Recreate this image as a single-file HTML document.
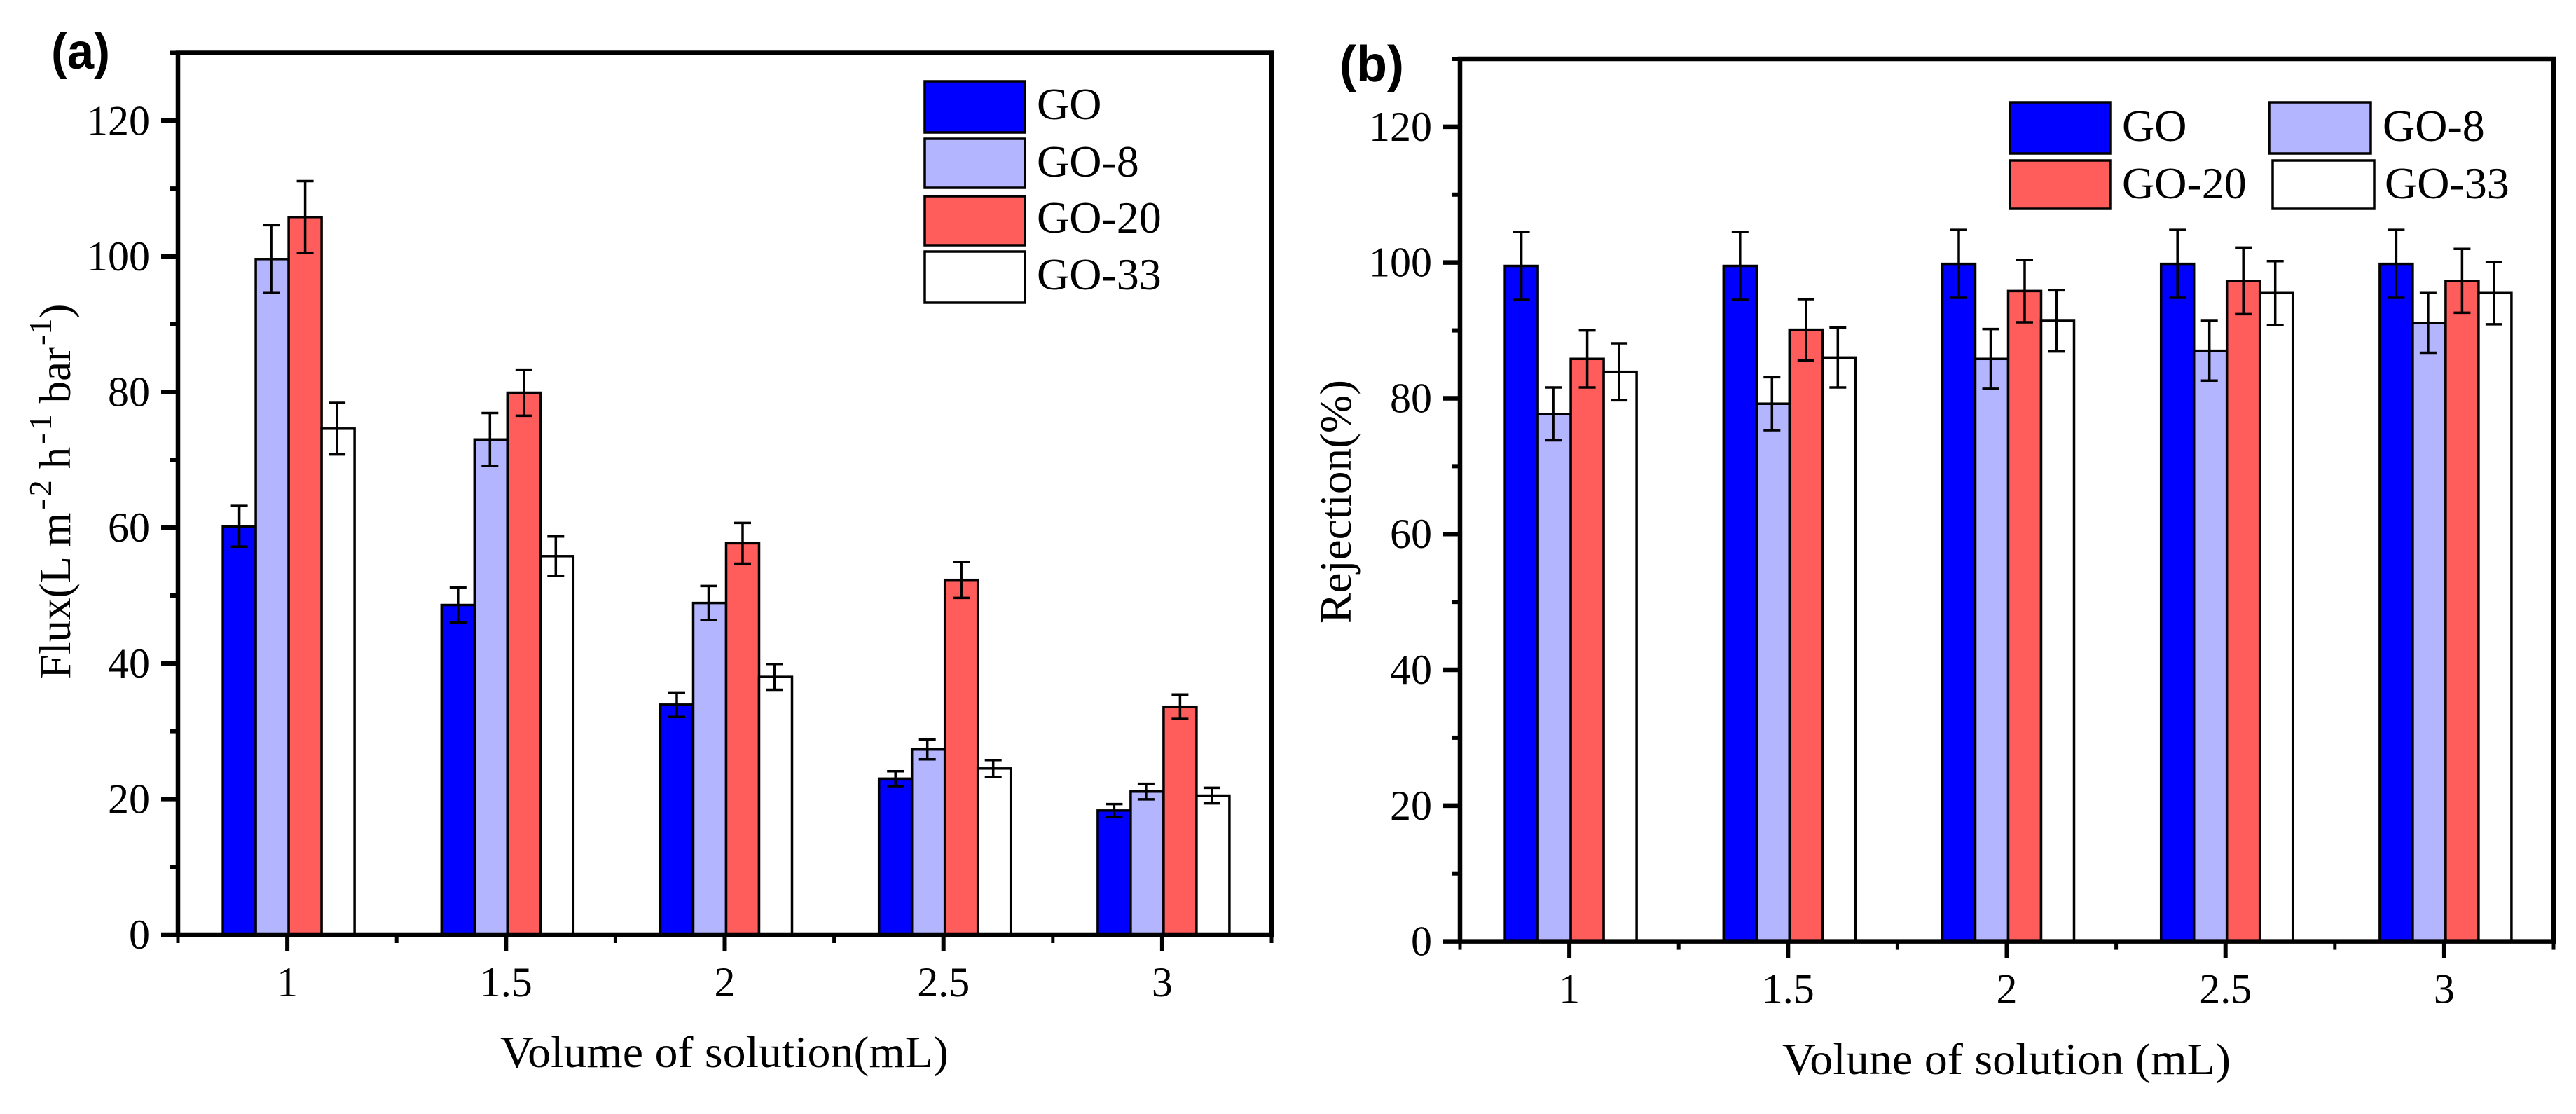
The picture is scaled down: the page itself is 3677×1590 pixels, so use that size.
<!DOCTYPE html>
<html lang="en">
<head>
<meta charset="utf-8">
<title>Flux and rejection bar charts</title>
<style>
html,body{margin:0;padding:0;background:#fff;}
svg{display:block;}
text{font-family:"Liberation Serif",serif;fill:#000;}
</style>
</head>
<body>
<svg id="figure" xmlns="http://www.w3.org/2000/svg" width="3677" height="1590" viewBox="0 0 3677 1590">
  <rect x="0" y="0" width="3677" height="1590" fill="#fff"/>
  <text x="73" y="98" font-size="72" font-weight="700" textLength="84" lengthAdjust="spacingAndGlyphs" style="font-family:'Liberation Sans',sans-serif">(a)</text>
  <text x="1912" y="116" font-size="72" font-weight="700" textLength="92" lengthAdjust="spacingAndGlyphs" style="font-family:'Liberation Sans',sans-serif">(b)</text>

  <g id="panel-a"></g>
  <g id="panel-b"></g>

  <text transform="translate(100 969) rotate(-90)" font-size="63">Flux(L m<tspan font-size="46" letter-spacing="4" dx="4" dy="-27">-2</tspan><tspan dx="12" dy="27">h</tspan><tspan font-size="46" letter-spacing="4" dx="4" dy="-27">-1</tspan><tspan dx="12" dy="27">bar</tspan><tspan font-size="46" dx="2" dy="-27">-1</tspan><tspan dy="27">)</tspan></text>
  <text x="714" y="1523" font-size="64" textLength="640" lengthAdjust="spacingAndGlyphs">Volume of solution(mL)</text>
  <text transform="translate(1928 890) rotate(-90)" font-size="64" textLength="348" lengthAdjust="spacingAndGlyphs">Rejection(%)</text>
  <text x="2544" y="1533" font-size="64" textLength="640" lengthAdjust="spacingAndGlyphs">Volune of solution (mL)</text>

  <g stroke="#000" stroke-width="3.5">
    <rect x="1320" y="116" width="143" height="73" fill="#0000ff"/>
    <rect x="1320" y="198" width="143" height="70" fill="#b3b5ff"/>
    <rect x="1320" y="280" width="143" height="70" fill="#ff5c5c"/>
    <rect x="1320" y="359" width="143" height="73" fill="#fff"/>
  </g>
  <g font-size="64">
    <text x="1480" y="170">GO</text>
    <text x="1480" y="252">GO-8</text>
    <text x="1480" y="332">GO-20</text>
    <text x="1480" y="413">GO-33</text>
  </g>

  <g stroke="#000" stroke-width="3.5">
    <rect x="2869" y="146" width="143" height="73" fill="#0000ff"/>
    <rect x="3239" y="146" width="145" height="73" fill="#b3b5ff"/>
    <rect x="2869" y="229" width="143" height="69" fill="#ff5c5c"/>
    <rect x="3244" y="229" width="145" height="69" fill="#fff"/>
  </g>
  <g font-size="64">
    <text x="3029" y="201">GO</text>
    <text x="3401" y="201">GO-8</text>
    <text x="3029" y="283">GO-20</text>
    <text x="3404" y="283">GO-33</text>
  </g>
</svg>
<script>
const categories = ['1', '1.5', '2', '2.5', '3'];
const seriesNames = ['GO', 'GO-8', 'GO-20', 'GO-33'];
const seriesColors = ['#0000ff', '#b3b5ff', '#ff5c5c', '#ffffff'];
const yMajorTicks = [0, 20, 40, 60, 80, 100, 120];
const yMinorTicks = [10, 30, 50, 70, 90, 110, 130];

const fluxGO = [60.2, 48.6, 33.9, 23.0, 18.3];
const fluxGO8 = [99.6, 73.0, 48.9, 27.3, 21.1];
const fluxGO20 = [105.8, 79.9, 57.7, 52.3, 33.6];
const fluxGO33 = [74.6, 55.8, 38.0, 24.5, 20.5];
const fluxErrGO = [3.0, 2.6, 1.8, 1.1, 0.95];
const fluxErrGO8 = [5.0, 3.9, 2.5, 1.45, 1.15];
const fluxErrGO20 = [5.3, 3.4, 3.0, 2.65, 1.8];
const fluxErrGO33 = [3.8, 2.9, 1.9, 1.25, 1.15];

const rejGO = [99.5, 99.5, 99.8, 99.8, 99.8];
const rejGO8 = [77.7, 79.2, 85.8, 87.0, 91.1];
const rejGO20 = [85.8, 90.1, 95.8, 97.3, 97.3];
const rejGO33 = [83.9, 86.0, 91.4, 95.5, 95.5];
const rejErrGO = [5.0, 5.0, 5.0, 5.0, 5.0];
const rejErrGO8 = [3.9, 3.9, 4.4, 4.4, 4.4];
const rejErrGO20 = [4.2, 4.5, 4.6, 4.9, 4.7];
const rejErrGO33 = [4.2, 4.4, 4.5, 4.7, 4.6];

const SVG_NS = 'http://www.w3.org/2000/svg';

function make(tag, attrs, parent) {
  const el = document.createElementNS(SVG_NS, tag);
  Object.keys(attrs).forEach(function (k) { el.setAttribute(k, attrs[k]); });
  parent.appendChild(el);
  return el;
}

function drawPanel(root, box, prefix, values, errors) {
  const yMax = 130;
  const pxPerUnit = (box.base - box.top) / yMax;
  const catWidth = (box.right - box.left) / categories.length;
  const barWidth = 47;
  const yScale = function (v) { return box.base - v * pxPerUnit; };
  const xCenter = function (i) { return box.left + catWidth * (i + 0.5); };
  const barLeft = function (i, s) { return xCenter(i) + 2 + (s - 2) * barWidth; };

  // bars and error bars
  values.forEach(function (series, s) {
    series.forEach(function (v, i) {
      const bar = make('rect', {
        x: barLeft(i, s),
        y: yScale(v),
        width: barWidth,
        height: box.base - yScale(v),
        fill: seriesColors[s],
        stroke: '#000',
        'stroke-width': 3.5
      }, root);
      
      
    });
  });
  values.forEach(function (series, s) {
    series.forEach(function (v, i) {
      const cx = barLeft(i, s) + barWidth / 2 - (s === 1 || s === 3 ? 1.5 : 0);
      const hi = yScale(v + errors[s][i]);
      const lo = yScale(v - errors[s][i]);
      const d = 'M' + cx + ' ' + hi + 'V' + lo + 'M' + (cx - 12) + ' ' + hi + 'H' + (cx + 12) + 'M' + (cx - 12) + ' ' + lo + 'H' + (cx + 12);
      const err = make('path', { d: d, fill: 'none', stroke: '#000', 'stroke-width': 3.5 }, root);
      
      
    });
  });

  // frame
  const frame = make('path', {
    d: 'M' + box.left + ' ' + box.base + 'V' + box.top + 'H' + box.right + 'V' + box.base + 'H' + box.left,
    fill: 'none', stroke: '#000', 'stroke-width': 6.5
  }, root);
  
  

  // y ticks
  yMajorTicks.forEach(function (v) {
    const t = make('line', { x1: box.left - 24, x2: box.left, y1: yScale(v), y2: yScale(v), stroke: '#000', 'stroke-width': 6.5 }, root);
    
    
    const label = make('text', { x: box.left - 40, y: yScale(v) + 20, 'font-size': 60, 'text-anchor': 'end' }, root);
    label.textContent = v;
    
    
  });
  yMinorTicks.forEach(function (v) {
    const t = make('line', { x1: box.left - 12, x2: box.left, y1: yScale(v), y2: yScale(v), stroke: '#000', 'stroke-width': 6 }, root);
    
    
  });

  // x ticks
  categories.forEach(function (c, i) {
    const t = make('line', { x1: xCenter(i), x2: xCenter(i), y1: box.base, y2: box.base + 24, stroke: '#000', 'stroke-width': 6 }, root);
    
    
    const label = make('text', { x: xCenter(i), y: box.base + 88, 'font-size': 60, 'text-anchor': 'middle' }, root);
    label.textContent = c;
    
    
  });
  for (let i = 0; i <= categories.length; i++) {
    const mx = box.left + catWidth * i;
    const t = make('line', { x1: mx, x2: mx, y1: box.base, y2: box.base + 12, stroke: '#000', 'stroke-width': 5 }, root);
    
    
  }
}

drawPanel(
  document.getElementById('panel-a'),
  { left: 254, right: 1815, top: 75.5, base: 1334 },
  'flux',
  [fluxGO, fluxGO8, fluxGO20, fluxGO33],
  [fluxErrGO, fluxErrGO8, fluxErrGO20, fluxErrGO33]
);
drawPanel(
  document.getElementById('panel-b'),
  { left: 2084, right: 3645, top: 84, base: 1343.6 },
  'rejection',
  [rejGO, rejGO8, rejGO20, rejGO33],
  [rejErrGO, rejErrGO8, rejErrGO20, rejErrGO33]
);
</script>
</body>
</html>
